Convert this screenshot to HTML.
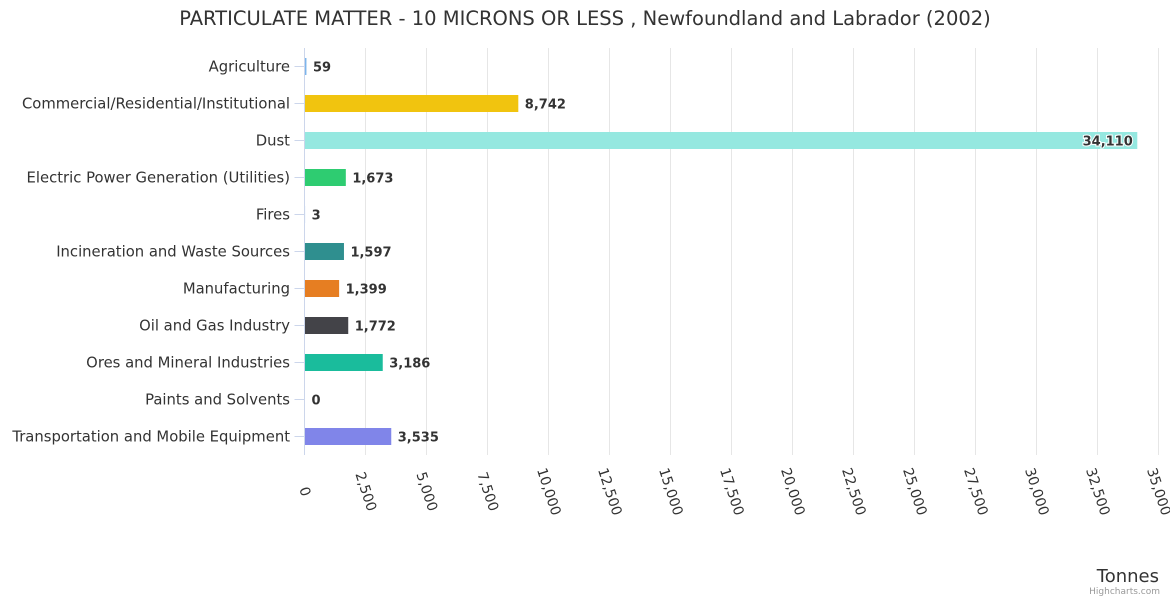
<!DOCTYPE html>
<html><head><meta charset="utf-8"><style>
body{margin:0;background:#fff;font-family:"DejaVu Sans",sans-serif}
</style></head><body>
<svg id="chart" width="1170" height="600" xmlns="http://www.w3.org/2000/svg" font-family="DejaVu Sans, sans-serif">
<rect width="1170" height="600" fill="#fff"/>
<text x="585" y="25" text-anchor="middle" font-size="19.5" fill="#333">PARTICULATE MATTER - 10 MICRONS OR LESS , Newfoundland and Labrador (2002)</text>
<g id="grid"></g><g id="bars"></g><g id="labels"></g>
<text x="1159" y="582" text-anchor="end" font-size="18" fill="#333">Tonnes</text>
<text x="1160" y="594" text-anchor="end" font-size="9" fill="#999">Highcharts.com</text>
</svg>
<script>
const categories=["Agriculture","Commercial/Residential/Institutional","Dust","Electric Power Generation (Utilities)","Fires","Incineration and Waste Sources","Manufacturing","Oil and Gas Industry","Ores and Mineral Industries","Paints and Solvents","Transportation and Mobile Equipment"];
const values=[59,8742,34110,1673,3,1597,1399,1772,3186,0,3535];
const colors=["#7cb5ec","#f1c40f","#95e8e0","#2ecc71","#7cb5ec","#2f8f8f","#e67e22","#434348","#1abc9c","#7cb5ec","#8085e9"];
const ticks=[0,2500,5000,7500,10000,12500,15000,17500,20000,22500,25000,27500,30000,32500,35000];
const NS="http://www.w3.org/2000/svg";
const x0=304.5,x1=1158.5,plotTop=48,plotBottom=455,maxV=35000;
const xs=v=>x0+(v/maxV)*(x1-x0);
const band=(plotBottom-plotTop)/categories.length;
const yc=i=>plotTop+band*(i+0.5);
function mk(tag,attrs,parent){const e=document.createElementNS(NS,tag);for(const k in attrs)e.setAttribute(k,attrs[k]);parent.appendChild(e);return e;}
const g=document.getElementById('grid'),b=document.getElementById('bars'),l=document.getElementById('labels');
ticks.forEach(t=>{
 const x=xs(t);
 if(t>0){const ln=mk('line',{x1:x,x2:x,y1:plotTop,y2:plotBottom,stroke:'#e6e6e6'},g);
 
 }
 const tx=mk('text',{x:x-4,y:plotBottom+38,'font-size':14,fill:'#333',transform:`rotate(72 ${x-4} ${plotBottom+38})`,'text-anchor':'middle'},g);
 tx.textContent=t.toLocaleString('en-US');
 
 
});
const ax=mk('line',{x1:x0,x2:x0,y1:plotTop,y2:plotBottom,stroke:'#ccd6eb'},g);


categories.forEach((c,i)=>{
 const y=yc(i);
 mk('line',{x1:x0-10,x2:x0,y1:y,y2:y,stroke:'#ccd6eb'},g);
 const lb=mk('text',{x:290,y:y+5,'text-anchor':'end','font-size':14.8,fill:'#333'},l);
 lb.textContent=c;
 
 
 const w=xs(values[i])-x0;
 const r=mk('rect',{x:x0+0.5,y:y-8.5,width:Math.max(0,w),height:17,fill:colors[i]},b);
 
 
 const inside=w>780;
 const v=mk('text',{x:inside?x0+w-4:x0+w+7,y:y+5,'text-anchor':inside?'end':'start','font-size':13,'font-weight':'bold',fill:'#333',stroke:'#fff','stroke-width':inside?2:0,'paint-order':'stroke'},l);
 v.textContent=values[i].toLocaleString('en-US');
 
 
});
</script>
</body></html>
